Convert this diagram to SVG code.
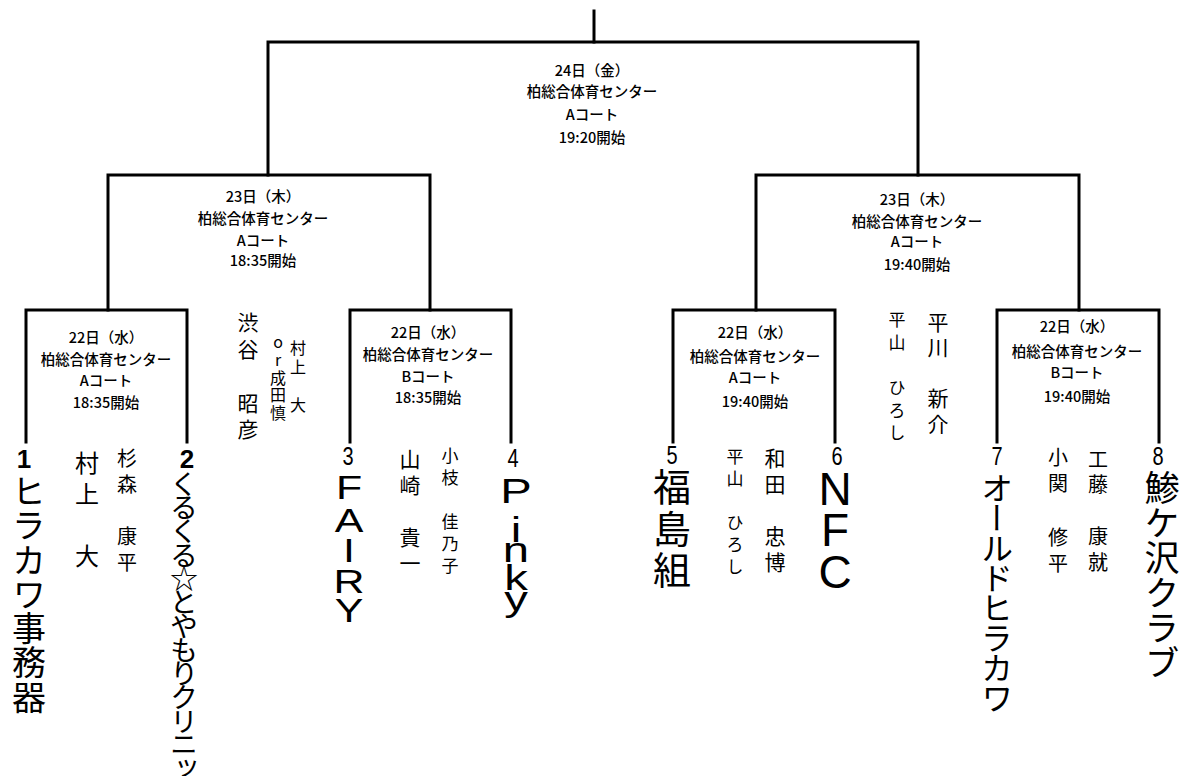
<svg xmlns="http://www.w3.org/2000/svg" width="1187" height="776" viewBox="0 0 1187 776">
<style>
.ln{fill:none;stroke:#000;stroke-width:3;stroke-linecap:square;stroke-linejoin:miter}
.info{font-family:"Noto Sans CJK JP","Noto Sans CJK SC",sans-serif;font-size:14.5px;font-weight:500;text-anchor:middle;fill:#000}
.v{font-family:"Noto Sans CJK JP","Noto Sans CJK SC",sans-serif;writing-mode:vertical-rl;text-orientation:upright;text-anchor:start;fill:#000}
.lat{font-family:"Liberation Sans",Arial,sans-serif;text-anchor:middle;fill:#000}
.num{font-family:"Liberation Sans",Arial,sans-serif;font-size:25px;text-anchor:middle;fill:#000}
.numb{font-family:"Liberation Sans",Arial,sans-serif;font-size:26px;font-weight:bold;text-anchor:middle;fill:#000}
</style>
<rect width="1187" height="776" fill="#fff"/>
<g id="connectors">
<path class="ln" d="M594 11V42"/>
<path class="ln" d="M268 175V42H918V175"/>
<path class="ln" d="M108 310V175H430V310"/>
<path class="ln" d="M756 310V175H1079V310"/>
<path class="ln" d="M26 442V310H187V442"/>
<path class="ln" d="M350 442V310H511V442"/>
<path class="ln" d="M673 442V310H835V442"/>
<path class="ln" d="M997 442V310H1159V442"/>
</g>
<g id="final">
<text class="info" x="592" y="76">24日（金）</text>
<text class="info" x="592" y="97">柏総合体育センター</text>
<text class="info" x="592" y="120">Aコート</text>
<text class="info" x="592" y="143">19:20開始</text>
</g>
<g id="semi-left">
<text class="info" x="263" y="202">23日（木）</text>
<text class="info" x="263" y="224">柏総合体育センター</text>
<text class="info" x="263" y="246">Aコート</text>
<text class="info" x="263" y="266">18:35開始</text>
</g>
<g id="semi-right">
<text class="info" x="917" y="205">23日（木）</text>
<text class="info" x="917" y="227">柏総合体育センター</text>
<text class="info" x="917" y="247">Aコート</text>
<text class="info" x="917" y="270">19:40開始</text>
</g>
<g id="match1">
<text class="info" x="106" y="343">22日（水）</text>
<text class="info" x="106" y="365">柏総合体育センター</text>
<text class="info" x="106" y="386">Aコート</text>
<text class="info" x="106" y="408">18:35開始</text>
</g>
<g id="match2">
<text class="info" x="428" y="338">22日（水）</text>
<text class="info" x="428" y="360">柏総合体育センター</text>
<text class="info" x="428" y="382">Bコート</text>
<text class="info" x="428" y="403">18:35開始</text>
</g>
<g id="match3">
<text class="info" x="755" y="338">22日（水）</text>
<text class="info" x="755" y="362">柏総合体育センター</text>
<text class="info" x="755" y="383">Aコート</text>
<text class="info" x="755" y="407">19:40開始</text>
</g>
<g id="match4">
<text class="info" x="1077" y="332">22日（水）</text>
<text class="info" x="1077" y="357">柏総合体育センター</text>
<text class="info" x="1077" y="378">Bコート</text>
<text class="info" x="1077" y="402">19:40開始</text>
</g>
<g id="referees">
<text class="v" x="248" y="312" style="font-size:21px;letter-spacing:5.75px">渋谷　昭彦</text>
<text class="v" x="278" y="334" style="font-size:16px;letter-spacing:1.75px">or成田慎</text>
<text class="v" x="298" y="340" style="font-size:16px;letter-spacing:3px">村上　大</text>
<text class="v" x="87" y="451" style="font-size:24px;letter-spacing:7px">村上　大</text>
<text class="v" x="127" y="448" style="font-size:20px;letter-spacing:6px">杉森　康平</text>
<text class="v" x="410" y="448.5" style="font-size:21px;letter-spacing:5px">山崎　貴一</text>
<text class="v" x="450" y="447.5" style="font-size:17px;letter-spacing:5px">小枝　佳乃子</text>
<text class="v" x="735" y="448" style="font-size:17px;letter-spacing:5px">平山　ひろし</text>
<text class="v" x="775" y="447.5" style="font-size:21px;letter-spacing:5px">和田　忠博</text>
<text class="v" x="897" y="311.5" style="font-size:17px;letter-spacing:5.6px">平山　ひろし</text>
<text class="v" x="938" y="311.5" style="font-size:21px;letter-spacing:4.5px">平川　新介</text>
<text class="v" x="1058" y="447" style="font-size:20px;letter-spacing:6.7px">小関　修平</text>
<text class="v" x="1098" y="449" style="font-size:20px;letter-spacing:5.75px">工藤　康就</text>
</g>
<g id="team1">
<text class="numb" x="24" y="468">1</text>
<text class="v" x="29" y="474" style="font-size:34px;letter-spacing:0.3px">ヒラカワ事務器</text>
</g>
<g id="team2">
<text class="numb" x="187" y="468">2</text>
<text class="v" x="184" y="470" style="font-size:28px;letter-spacing:-4.3px">くるくる☆とやもりクリニック</text>
</g>
<g id="team3">
<text class="num" transform="translate(348 465) scale(0.8 1)">3</text>
<text class="lat" transform="translate(349 0) scale(1.3 1)" style="font-size:33px"><tspan x="0" y="499">F</tspan><tspan x="0" y="532">A</tspan><tspan x="0" y="562">I</tspan><tspan x="0" y="593">R</tspan><tspan x="0" y="622">Y</tspan></text>
</g>
<g id="team4">
<text class="num" transform="translate(513 467) scale(0.8 1)">4</text>
<text class="lat" transform="translate(516 0) scale(1.35 1)" style="font-size:35px"><tspan x="0" y="503">P</tspan><tspan x="0" y="542">i</tspan><tspan x="0" y="562">n</tspan><tspan x="0" y="590">k</tspan><tspan x="0" y="611">y</tspan></text>
</g>
<g id="team5">
<text class="num" transform="translate(672 464) scale(0.8 1)">5</text>
<text class="v" x="672" y="467.5" style="font-size:38px;letter-spacing:3.75px">福島組</text>
</g>
<g id="team6">
<text class="num" transform="translate(837 465) scale(0.8 1)">6</text>
<text class="lat" style="font-size:46px"><tspan x="835" y="505">N</tspan><tspan x="835" y="546">F</tspan><tspan x="835" y="588">C</tspan></text>
</g>
<g id="team7">
<text class="num" transform="translate(997 465) scale(0.8 1)">7</text>
<text class="v" x="997" y="472" style="font-size:32px;letter-spacing:-2px">オールドヒラカワ</text>
</g>
<g id="team8">
<text class="num" transform="translate(1158 465) scale(0.8 1)">8</text>
<text class="v" x="1162" y="470.5" style="font-size:35px;letter-spacing:0px">鯵ケ沢クラブ</text>
</g>
</svg>
